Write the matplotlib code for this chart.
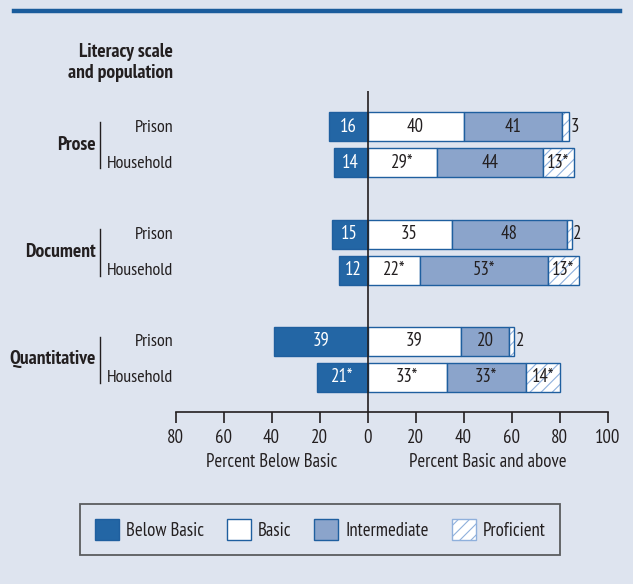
import matplotlib.pyplot as plt
from matplotlib.patches import Patch
from matplotlib.lines import Line2D
from matplotlib import font_manager

# --- data ---
scales = ["Prose", "Document", "Quantitative"]
populations = ["Prison", "Household"]

below_basic = [[16, 14], [15, 12], [39, 21]]
basic = [[40, 29], [35, 22], [39, 33]]
intermediate = [[41, 44], [48, 53], [20, 33]]
proficient = [[3, 13], [2, 13], [2, 14]]

below_lbl = [["16", "14"], ["15", "12"], ["39", "21*"]]
basic_lbl = [["40", "29*"], ["35", "22*"], ["39", "33*"]]
inter_lbl = [["41", "44"], ["48", "53*"], ["20", "33*"]]
prof_lbl = [["3", "13*"], ["2", "13*"], ["2", "14*"]]

xticks = [-80, -60, -40, -20, 0, 20, 40, 60, 80, 100]
xtick_labels = ["80", "60", "40", "20", "0", "20", "40", "60", "80", "100"]

# --- style ---
W, H = 633, 584
BG = "#dee4ef"
DARK = "#231f20"
BLUE = "#2366a5"
INTER = "#8ba4cb"
EDGE = "#1f5f9f"
HATCH = "#8fb0dc"

names = {f.name for f in font_manager.fontManager.ttflist}
FONT = "DejaVu Sans"
for cand in ["PT Sans Narrow", "Fira Sans Condensed", "Roboto Condensed",
             "Barlow Semi Condensed", "Archivo Narrow"]:
    if cand in names:
        FONT = cand
        break
plt.rcParams["font.family"] = [FONT, "DejaVu Sans"]
plt.rcParams["hatch.linewidth"] = 0.8
FS = 13.5
FS_B = 14
FS_POP = 13


def fx(x):
    return x / W


def fy(y):
    return 1 - y / H


fig = plt.figure(figsize=(W / 100, H / 100), dpi=100, facecolor=BG)

# top rule
fig.add_artist(Line2D([fx(14), fx(620)], [fy(11), fy(11)], color="#1a5c9c", linewidth=3.2))

ax_top, ax_bot = 91, 412
x0, x1 = 175.5, 607.5
ax = fig.add_axes([fx(x0), fy(ax_bot), fx(x1) - fx(x0), (ax_bot - ax_top) / H])
ax.set_facecolor("none")
ax.set_xlim(-80, 100)
ax.set_ylim(ax_bot, ax_top)

bar_h = 29
row_y = {}
for g in range(3):
    for k in range(2):
        row_y[(g, k)] = 126.5 + g * 107.5 + k * 36

for g in range(3):
    for k in range(2):
        y = row_y[(g, k)]
        bb = below_basic[g][k]
        b = basic[g][k]
        it = intermediate[g][k]
        pr = proficient[g][k]
        ax.barh(y, -bb, height=bar_h, color=BLUE, edgecolor=EDGE, linewidth=1)
        ax.barh(y, b, height=bar_h, color="white", edgecolor=EDGE, linewidth=1)
        ax.barh(y, it, left=b, height=bar_h, color=INTER, edgecolor=EDGE, linewidth=1)
        ax.barh(y, pr, left=b + it, height=bar_h, color="white", edgecolor=HATCH,
                hatch="///", linewidth=0)
        ax.barh(y, pr, left=b + it, height=bar_h, color="none", edgecolor=EDGE, linewidth=1)

        ax.text(-bb / 2, y, below_lbl[g][k], color="white", ha="center", va="center", fontsize=FS)
        ax.text(b / 2, y, basic_lbl[g][k], color=DARK, ha="center", va="center", fontsize=FS)
        ax.text(b + it / 2, y, inter_lbl[g][k], color=DARK, ha="center", va="center", fontsize=FS)
        if pr >= 10:
            ax.text(b + it + pr / 2, y, prof_lbl[g][k], color=DARK, ha="center", va="center", fontsize=FS)
        else:
            ax.text(b + it + pr + 0.8, y, prof_lbl[g][k], color=DARK, ha="left", va="center", fontsize=FS)

ax.axvline(0, color=DARK, linewidth=1.2, zorder=5)

for s in ["top", "right", "left"]:
    ax.spines[s].set_visible(False)
ax.spines["bottom"].set_color(DARK)
ax.spines["bottom"].set_linewidth(1.2)
ax.set_yticks([])
ax.set_xticks(xticks)
ax.set_xticklabels(xtick_labels, fontsize=FS, color=DARK)
ax.tick_params(axis="x", direction="out", length=8, width=1.2, color=DARK, pad=4)

ax.text(-40, -0.155, "Percent Below Basic", transform=ax.get_xaxis_transform(),
        ha="center", va="center", fontsize=FS, color=DARK)
ax.text(50, -0.155, "Percent Basic and above", transform=ax.get_xaxis_transform(),
        ha="center", va="center", fontsize=FS, color=DARK)

# left labels
fig.text(fx(173), fy(62.5), "Literacy scale\nand population", ha="right", va="center",
         fontsize=FS_B, fontweight="bold", color=DARK, linespacing=1.25)
for g, name in enumerate(scales):
    yp, yh = row_y[(g, 0)], row_y[(g, 1)]
    fig.text(fx(96), fy((yp + yh) / 2), name, ha="right", va="center",
             fontsize=FS_B, fontweight="bold", color=DARK)
    fig.add_artist(Line2D([fx(100), fx(100)], [fy(yp - 4.5), fy(yh + 5.5)],
                          color=DARK, linewidth=1))
    for k, pop in enumerate(populations):
        fig.text(fx(173), fy(row_y[(g, k)] + 1), pop, ha="right", va="center",
                 fontsize=FS_POP, color=DARK)

# legend
handles = [
    Patch(facecolor=BLUE, edgecolor=EDGE, label="Below Basic"),
    Patch(facecolor="white", edgecolor=EDGE, label="Basic"),
    Patch(facecolor=INTER, edgecolor=EDGE, label="Intermediate"),
    Patch(facecolor="white", edgecolor=HATCH, hatch="///", label="Proficient"),
]
fs_px = FS * 100 / 72
leg = fig.legend(handles=handles, ncol=4, loc="center",
                 bbox_to_anchor=(fx(320), fy(529.5)), fontsize=FS,
                 handlelength=24 / fs_px, handleheight=24 / fs_px,
                 handletextpad=7 / fs_px, columnspacing=23 / fs_px,
                 borderpad=0.8, fancybox=False, frameon=True)
leg.get_frame().set_facecolor(BG)
leg.get_frame().set_edgecolor("#3a3a3a")
leg.get_frame().set_linewidth(1.3)
for t in leg.get_texts():
    t.set_color(DARK)

plt.savefig("out.png", dpi=100, facecolor=BG)
